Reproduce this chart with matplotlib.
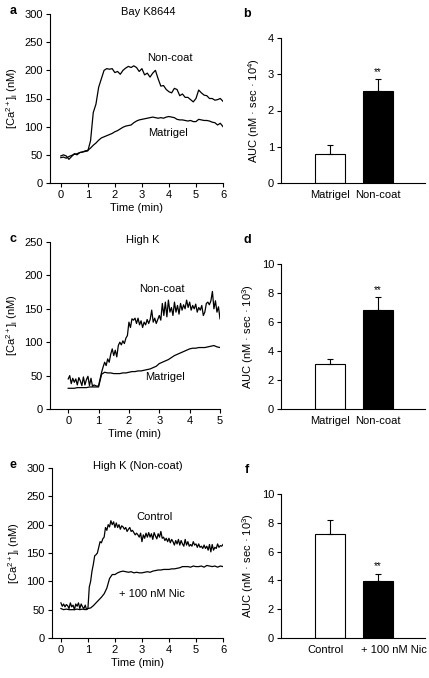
import numpy as np
import matplotlib
matplotlib.use("Agg")
import matplotlib.pyplot as plt

plt.rcParams['font.family'] = ['Liberation Sans', 'DejaVu Sans']
plt.rcParams['font.size'] = 8
plt.rcParams['mathtext.fontset'] = 'custom'
plt.rcParams['mathtext.rm'] = 'Liberation Sans'
plt.rcParams['mathtext.it'] = 'Liberation Sans:italic'

# ---- panel a: Bay K8644, sampled every 0.1 min ----
a_noncoat = [48, 50, 48, 42, 47, 52, 50, 54, 55, 56, 57, 75, 125, 140, 170, 185, 200, 203, 202, 203,
             196, 198, 193, 200, 204, 207, 205, 208, 205, 198, 203, 192, 195, 188, 195, 200, 185, 172,
             173, 166, 162, 160, 168, 166, 155, 158, 152, 152, 148, 144, 150, 165, 160, 156, 155, 150,
             150, 147, 148, 150, 145]
a_matrigel = [45, 46, 44, 47, 49, 51, 52, 54, 55, 57, 58, 62, 67, 71, 76, 80, 82, 84, 86, 88,
              91, 93, 96, 99, 101, 102, 103, 107, 110, 112, 113, 114, 115, 116, 117, 116, 115, 116,
              115, 117, 118, 117, 116, 113, 112, 112, 111, 110, 111, 109, 109, 113, 112, 111, 111, 110,
              108, 107, 103, 106, 100]

# ---- panel c: High K, non-coat every 0.05 min, matrigel every 0.1 min ----
c_noncoat = [45, 50, 38, 46, 40, 45, 36, 47, 42, 35, 48, 36, 44, 49, 35, 46, 34, 36, 35, 34, 35,
             45, 55, 63, 70, 65, 75, 70, 82, 90, 80, 88, 78, 95, 100, 96, 102, 98, 106, 110,
             130, 122, 135, 133, 136, 128, 136, 126, 132, 122, 130, 126, 134, 128, 134, 148, 130, 136,
             128, 134, 140, 133, 158, 140, 160, 138, 163, 145, 152, 140, 160, 145, 155, 142, 158, 148,
             156, 150, 163, 152, 160, 148, 155, 150, 157, 145, 152, 148, 155, 140, 145, 158, 160, 156,
             162, 176, 150, 162, 145, 153, 135]
c_matrigel = [31, 31, 31, 32, 32, 32, 32, 33, 33, 33, 33, 52, 55, 54, 54, 53, 53, 53, 54, 54,
              55, 56, 56, 57, 57, 58, 59, 60, 62, 64, 68, 70, 72, 74, 77, 80, 82, 84, 86, 88,
              90, 91, 91, 92, 92, 92, 93, 94, 95, 93, 92]

# ---- panel e: High K (non-coat), control every 0.05 min, nic every 0.1 min ----
e_control = [62, 56, 60, 55, 59, 57, 52, 62, 55, 58, 50, 60, 56, 62, 52, 60, 55, 52, 58, 50, 52,
             90, 100, 118, 130, 145, 147, 150, 160, 170, 168, 175, 178, 195, 190, 200, 196, 207, 200,
             205, 195, 203, 195, 200, 192, 198, 196, 192, 195, 188, 192, 195, 188, 190, 186, 182, 185,
             182, 178, 185, 170, 182, 176, 185, 178, 186, 178, 184, 174, 186, 180, 175, 184, 178, 188,
             176, 178, 172, 176, 170, 176, 168, 174, 170, 164, 172, 166, 174, 164, 172, 166, 162, 174,
             164, 170, 162, 165, 162, 170, 164, 166, 160, 166, 160, 162, 158, 164, 158, 162, 155, 165,
             152, 165, 155, 160, 158, 166, 160, 163, 162, 165]
e_nic = [52, 50, 51, 50, 50, 50, 51, 50, 51, 50, 52, 53, 57, 62, 67, 72, 78, 88, 105, 112,
         112, 115, 117, 118, 117, 116, 117, 115, 116, 115, 115, 116, 117, 116, 118, 119, 120, 120,
         121, 121, 121, 122, 122, 123, 124, 126, 126, 126, 125, 127, 126, 126, 127, 125, 128, 127,
         126, 127, 125, 127, 126]

# ---- bar panels: mean, upper error ----
b_labels = ['Matrigel', 'Non-coat']
b_means = [0.80, 2.55]
b_err = [0.25, 0.32]
d_labels = ['Matrigel', 'Non-coat']
d_means = [3.10, 6.85]
d_err = [0.35, 0.85]
f_labels = ['Control', '+ 100 nM Nic']
f_means = [7.23, 3.95]
f_err = [0.97, 0.51]

W, H = 429, 678
fig = plt.figure(figsize=(W / 100, H / 100), dpi=100)


def box(l, t, r, b):
    return [l / W, 1 - b / H, (r - l) / W, (b - t) / H]


def style(ax):
    for s in ['top', 'right']:
        ax.spines[s].set_visible(False)
    for s in ['left', 'bottom']:
        ax.spines[s].set_linewidth(0.8)
    ax.tick_params(direction='out', length=3, width=0.8, labelsize=8, pad=2)


def trace_panel(rect, series, steps, ymax, xmax, xmin, letter, title, tx, notes):
    ax = fig.add_axes(box(*rect))
    style(ax)
    for vals, dt in zip(series, steps):
        t = np.arange(len(vals)) * dt
        ax.plot(t, vals, color='black', lw=0.9)
    ax.set_xlim(xmin, xmax)
    ax.set_ylim(0, ymax)
    ax.set_yticks(np.arange(0, ymax + 1, 50))
    ax.set_xticks(np.arange(0, xmax + 1, 1))
    ax.set_xlabel('Time (min)', fontsize=8, labelpad=2)
    ax.set_ylabel('[Ca$^{2+}$]$_\\mathregular{i}$ (nM)', fontsize=8, labelpad=3)
    ax.text(tx, 1.01, title, transform=ax.transAxes, ha='center', va='center', fontsize=8)
    for x, y, s in notes:
        ax.text(x, y, s, ha='center', va='center', fontsize=8)
    fig.text(13 / W, 1 - (rect[1] - 3) / H, letter, fontweight='bold', fontsize=9,
             ha='center', va='center')
    return ax


def bar_panel(rect, labels, means, errs, ymax, step, exp, letter, star_idx, label_shift=(0, 0)):
    ax = fig.add_axes(box(*rect))
    style(ax)
    x = np.arange(len(labels))
    ax.bar(x, means, width=0.62, color=['white', 'black'], edgecolor='black', linewidth=0.8)
    ax.errorbar(x, means, yerr=[np.zeros(len(errs)), errs], fmt='none', ecolor='black',
                elinewidth=0.8, capsize=2, capthick=0.8)
    ax.set_xlim(-1.02, 1.98)
    ax.set_ylim(0, ymax)
    ax.set_yticks(np.arange(0, ymax + 0.01, step))
    ax.set_xticks(x + np.array(label_shift))
    ax.set_xticklabels(labels)
    ax.tick_params(axis='x', length=0, pad=5)
    ax.set_ylabel('AUC (nM · sec · 10$^{%d}$)' % exp, fontsize=8, labelpad=4)
    ax.text(x[star_idx], means[star_idx] + errs[star_idx] + ymax * 0.05, '**',
            ha='center', va='center', fontsize=7)
    fig.text(247 / W, 1 - (rect[1] - 24) / H, letter, fontweight='bold', fontsize=9,
             ha='center', va='center')
    return ax


trace_panel((50, 14, 223, 183), [a_noncoat, a_matrigel], [0.1, 0.1], 300, 6, -0.4, 'a',
            'Bay K8644', 0.566, [(4.05, 222, 'Non-coat'), (3.95, 89, 'Matrigel')])
bar_panel((281, 38, 425, 183), b_labels, b_means, b_err, 4, 1, 4, 'b', 1)

trace_panel((50, 242, 220, 409), [c_noncoat, c_matrigel], [0.05, 0.1], 250, 5, -0.6, 'c',
            'High K', 0.547, [(3.1, 180, 'Non-coat'), (3.2, 48, 'Matrigel')])
bar_panel((281, 264, 425, 409), d_labels, d_means, d_err, 10, 2, 3, 'd', 1)

trace_panel((52, 468, 223, 638), [e_control, e_nic], [0.05, 0.1], 300, 6, -0.33, 'e',
            'High K (Non-coat)', 0.50, [(3.48, 214, 'Control'), (3.37, 78, '+ 100 nM Nic')])
bar_panel((281, 494, 425, 638), f_labels, f_means, f_err, 10, 2, 3, 'f', 1,
          label_shift=(-0.1, 0.33))

fig.savefig('out.png', dpi=100)
